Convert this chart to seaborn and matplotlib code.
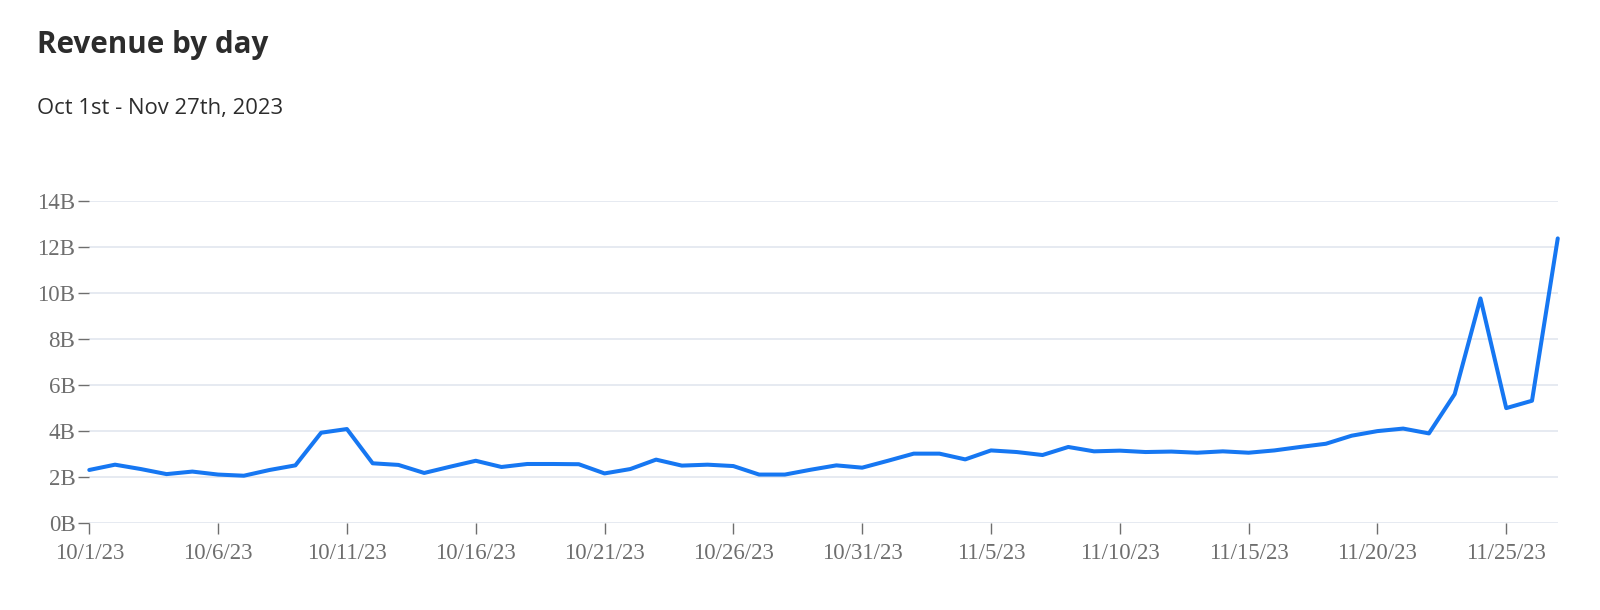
import pandas as pd
import seaborn as sns
import matplotlib
matplotlib.use("Agg")
import matplotlib.pyplot as plt
from matplotlib.ticker import FuncFormatter

# Data (revenue in billions)
START_DATE = "2023-10-01"
END_DATE = "2023-11-27"
revenue_b = [
    2.32, 2.55, 2.36, 2.14, 2.25, 2.12, 2.07, 2.32, 2.52, 3.94,   # 10/1 - 10/10
    4.10, 2.61, 2.54, 2.19, 2.46, 2.72, 2.45, 2.58, 2.58, 2.57,   # 10/11 - 10/20
    2.17, 2.36, 2.77, 2.51, 2.55, 2.49, 2.12, 2.12, 2.33, 2.52,   # 10/21 - 10/30
    2.42,                                                         # 10/31
    2.72, 3.03, 3.03, 2.78, 3.17, 3.10, 2.97, 3.32, 3.13, 3.16,   # 11/1 - 11/10
    3.10, 3.12, 3.07, 3.13, 3.07, 3.17, 3.32, 3.46, 3.81, 4.01,   # 11/11 - 11/20
    4.12, 3.91, 5.62, 9.78, 5.01, 5.33, 12.39,                    # 11/21 - 11/27
]
y_ticks = [0, 2, 4, 6, 8, 10, 12, 14]
title = "Revenue by day"
subtitle = "Oct 1st - Nov 27th, 2023"

dates = pd.date_range(START_DATE, END_DATE, freq="D")
df = pd.DataFrame({"date": dates, "revenue": revenue_b})

# Styling
LINE_COLOR = "#1677f2"
GRID_COLOR = "#e1e6ef"
TICK_COLOR = "#6e6e6e"

sns.set_theme(style="white")
plt.rcParams["font.family"] = ["Open Sans", "DejaVu Sans"]

fig = plt.figure(figsize=(16, 6.1), dpi=100)
ax = fig.add_axes([0.0558, 0.1421, 0.9178, 0.5289])

sns.lineplot(data=df, x="date", y="revenue", ax=ax, color=LINE_COLOR,
             linewidth=2.9, clip_on=False)

ax.set_xlim(dates[0], dates[-1])
ax.set_ylim(0, 14.03)
ax.set_yticks(y_ticks)
ax.yaxis.set_major_formatter(FuncFormatter(lambda v, p: f"{int(v)}B"))
ax.set_xticks(dates[::5])
ax.set_xticklabels([f"{d.month}/{d.day}/{d.strftime('%y')}" for d in dates[::5]])

ax.grid(axis="y", color=GRID_COLOR, linewidth=1.2)
ax.grid(axis="x", visible=False)
ax.set_axisbelow(True)
for s in ax.spines.values():
    s.set_visible(False)

ax.tick_params(axis="both", direction="out", length=8, width=1.0,
               color=TICK_COLOR, labelcolor=TICK_COLOR, labelsize=16.5, pad=2)
ax.tick_params(axis="y", left=True)
ax.tick_params(axis="x", bottom=True, pad=6)
for lbl in ax.get_xticklabels() + ax.get_yticklabels():
    lbl.set_family(["Liberation Serif", "DejaVu Serif"])

ax.set_xlabel("")
ax.set_ylabel("")

fig.text(37 / 1600, 1 - 53 / 610, title, fontsize=21.3, fontweight="bold",
         color="#2c2c2c", va="baseline", ha="left")
fig.text(37 / 1600, 1 - 114 / 610, subtitle, fontsize=15.8,
         color="#2c2c2c", va="baseline", ha="left")

fig.savefig("out.png", dpi=100)
